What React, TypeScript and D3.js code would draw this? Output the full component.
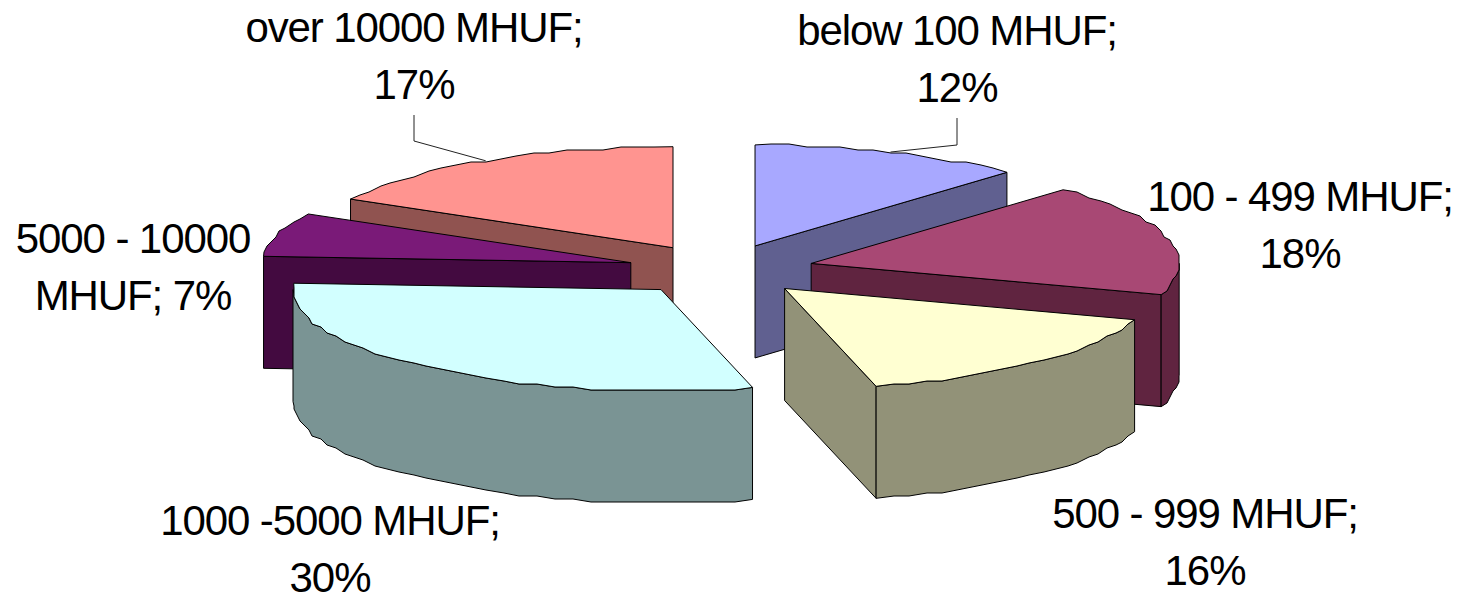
import React from "react";
import * as d3 from "d3";

// Company turnover bands and their share of the total, clockwise from 12 o'clock.
const categories = [
  "below 100 MHUF",
  "100 - 499 MHUF",
  "500 - 999 MHUF",
  "1000 -5000 MHUF",
  "5000 - 10000 MHUF",
  "over 10000 MHUF",
];
const shares = [12, 18, 16, 30, 7, 17];
const topColors = ["#a8a8ff", "#a84874", "#ffffd2", "#d2ffff", "#7a1a78", "#ff9490"];
const wallColors = ["#606090", "#602440", "#929278", "#7a9494", "#430a40", "#905350"];

// Label lines as drawn, with the centre x and first baseline of each block.
const labelLines = [
  ["below 100 MHUF;", "12%"],
  ["100 - 499 MHUF;", "18%"],
  ["500 - 999 MHUF;", "16%"],
  ["1000 -5000 MHUF;", "30%"],
  ["5000 - 10000", "MHUF; 7%"],
  ["over 10000 MHUF;", "17%"],
];
const labelX = [957, 1300, 1205, 330, 133, 414];
const labelY = [45, 211, 528, 535, 253, 42];
const lineGap = 57;

// Leaders only exist for the two back slices: slice index and elbow position.
const leaderSlices = [0, 5];
const leaderElbowX = [957, 414];
const leaderElbowY = [145, 141];
const leaderEndY = [118, 115];

const width = 1460;
const height = 597;
const centerX = 720.6;
const centerY = 269.8;
const radiusX = 368;
const radiusY = 101;
const explode = 93.5;
const depth = 112;
const grid = 3;

type Pt = [number, number];

const pieLayout = d3
  .pie<number>()
  .sort(null)
  .startAngle(0)
  .endAngle(2 * Math.PI);
const arcs = pieLayout(shares);

const linePath = d3.line<Pt>();
const snap = (v: number) => Math.round(v / grid) * grid;

function apexOf(mid: number): Pt {
  return [
    centerX + explode * Math.sin(mid),
    centerY - (explode * radiusY * Math.cos(mid)) / radiusX,
  ];
}

function rimPoint(apex: Pt, a: number): Pt {
  return [apex[0] + radiusX * Math.sin(a), apex[1] - radiusY * Math.cos(a)];
}

// Angles at which a slice's arc is sampled.
function rimAngles(a0: number, a1: number): number[] {
  const n = Math.max(2, Math.ceil((a1 - a0) / 0.05));
  const angle = d3.scaleLinear().domain([0, n]).range([a0, a1]);
  return d3.range(n + 1).map((i) => angle(i));
}

// Interior samples snap to a grid, which gives the edge its stepped look.
const snappedRimPoint = (apex: Pt, a: number): Pt => {
  const p = rimPoint(apex, a);
  return [snap(p[0]), snap(p[1])];
};

const lower = (p: Pt): Pt => [p[0], p[1] + depth];

const slices = arcs
  .map((d, i) => {
    const mid = (d.startAngle + d.endAngle) / 2;
    const apex = apexOf(mid);
    const angles = rimAngles(d.startAngle, d.endAngle);
    const start = rimPoint(apex, d.startAngle);
    const end = rimPoint(apex, d.endAngle);
    const rim: Pt[] = angles.map((a, k) =>
      k === 0 ? start : k === angles.length - 1 ? end : snappedRimPoint(apex, a)
    );
    // The outer wall shares the top face's samples, limited to the half facing the viewer.
    const frontFrom = Math.max(d.startAngle, Math.PI / 2);
    const frontTo = Math.min(d.endAngle, (3 * Math.PI) / 2);
    const front: Pt[] =
      frontTo > frontFrom
        ? [
            rimPoint(apex, frontFrom),
            ...rim.filter((_, k) => angles[k] > frontFrom && angles[k] < frontTo),
            rimPoint(apex, frontTo),
          ]
        : [];
    // A cut face only shows when its outward normal points towards the viewer.
    const walls: string[] = [];
    if (Math.sin(d.startAngle) < -1e-6) {
      walls.push(linePath([apex, start, lower(start), lower(apex)])! + "Z");
    }
    if (Math.sin(d.endAngle) > 1e-6) {
      walls.push(linePath([apex, end, lower(end), lower(apex)])! + "Z");
    }
    return {
      i,
      mid,
      top: linePath([apex, ...rim])! + "Z",
      walls,
      front: front.length
        ? linePath([...front, ...front.map(lower).reverse()])! + "Z"
        : null,
    };
  })
  // Painter's order: slices further back are drawn first.
  .sort((a, b) => Math.cos(b.mid) - Math.cos(a.mid));

export default function App() {
  return (
    <svg
      width={width}
      height={height}
      viewBox={`0 0 ${width} ${height}`}
      style={{ position: "absolute", left: 0, top: 0, display: "block", background: "#fff" }}
    >
      {slices.map((s) => (
        <g key={categories[s.i]} stroke="#000" strokeWidth={1} strokeLinejoin="round">
          {s.walls.map((w, k) => (
            <path key={k} d={w} fill={wallColors[s.i]} />
          ))}
          {s.front && <path d={s.front} fill={wallColors[s.i]} />}
          <path d={s.top} fill={topColors[s.i]} />
        </g>
      ))}
      {leaderSlices.map((sliceIndex, k) => {
        const arc = arcs[sliceIndex];
        const mid = (arc.startAngle + arc.endAngle) / 2;
        const anchor = rimPoint(apexOf(mid), mid);
        return (
          <path
            key={sliceIndex}
            d={
              linePath([
                [leaderElbowX[k], leaderEndY[k]],
                [leaderElbowX[k], leaderElbowY[k]],
                anchor,
              ])!
            }
            fill="none"
            stroke="#222"
            strokeWidth={1}
          />
        );
      })}
      <g
        fontFamily="'Liberation Sans', Arial, sans-serif"
        fontSize={42}
        letterSpacing={-1.1}
        fill="#000"
        textAnchor="middle"
      >
        {labelLines.map((lines, i) =>
          lines.map((t, j) => (
            <text key={t} x={labelX[i]} y={labelY[i] + j * lineGap}>
              {t}
            </text>
          ))
        )}
      </g>
    </svg>
  );
}
